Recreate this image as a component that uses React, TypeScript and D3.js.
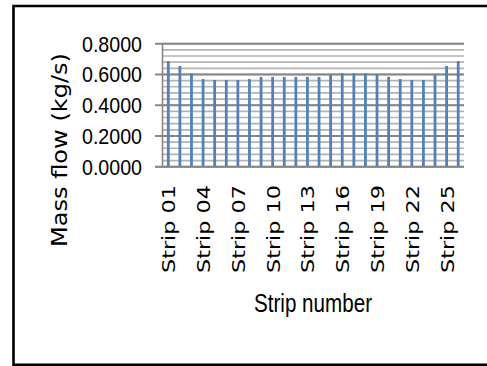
import React from "react";
import * as d3 from "d3";

// Mass flow per strip (kg/s)
const strips: string[] = Array.from({ length: 26 }, (_, i) => `Strip ${String(i + 1).padStart(2, "0")}`);
const massFlow: number[] = [
  0.687, 0.655, 0.607, 0.570, 0.564, 0.564, 0.564, 0.570, 0.584, 0.584, 0.584, 0.584, 0.584,
  0.584, 0.598, 0.607, 0.607, 0.607, 0.598, 0.584, 0.570, 0.564, 0.564, 0.598, 0.655, 0.687,
];
const yTicks: number[] = [0, 0.2, 0.4, 0.6, 0.8];
const yMinorTicks: number[] = d3.range(0, 0.8001, 0.04);
const xLabelEvery = 3;

const W = 487;
const H = 366;
const plot = { left: 162.5, right: 464, top: 43.7, bottom: 166.7 };

export default function App() {
  const x = d3
    .scaleBand<string>()
    .domain(strips)
    .range([plot.left, plot.right])
    .paddingInner(0.76)
    .paddingOuter(0.38);
  const y = d3.scaleLinear().domain([0, 0.8]).range([plot.bottom, plot.top]);

  return (
    <svg
      width={W}
      height={H}
      style={{ position: "absolute", left: 0, top: 0, background: "#fff" }}
    >
      {/* outer frame (open on the right) */}
      <path d={`M${W + 5},6 H13.5 V364.8 H${W + 5}`} fill="none" stroke="#000" strokeWidth={2.6} />

      {/* minor gridlines */}
      {yMinorTicks.map((t, i) => (
        <line
          key={`m${i}`}
          x1={plot.left}
          x2={plot.right}
          y1={y(t)}
          y2={y(t)}
          stroke="#b4b4b4"
          strokeWidth={1.7}
        />
      ))}
      {/* major gridlines with tick marks */}
      {yTicks.map((t) => (
        <line
          key={`M${t}`}
          x1={155}
          x2={plot.right}
          y1={y(t)}
          y2={y(t)}
          stroke="#868686"
          strokeWidth={1.9}
        />
      ))}
      {/* y axis line */}
      <line x1={plot.left} x2={plot.left} y1={plot.top} y2={plot.bottom} stroke="#868686" strokeWidth={1.6} />

      {/* bars */}
      {massFlow.map((v, i) => (
        <rect
          key={strips[i]}
          x={x(strips[i])}
          y={y(v)}
          width={x.bandwidth()}
          height={y(0) - y(v)}
          fill="#4f81bd"
        />
      ))}

      {/* x axis line */}
      <line x1={155} x2={plot.right} y1={plot.bottom} y2={plot.bottom} stroke="#868686" strokeWidth={1.6} />

      {/* y tick labels */}
      {yTicks.map((t) => (
        <text
          key={`l${t}`}
          x={142}
          y={y(t)}
          dy="0.36em"
          textAnchor="end"
          fontFamily="Liberation Sans, Arial, sans-serif"
          fontSize={22}
          textLength={60}
          lengthAdjust="spacingAndGlyphs"
          fill="#000"
        >
          {t.toFixed(4)}
        </text>
      ))}

      {/* x tick labels */}
      {strips.map((s, i) =>
        i % xLabelEvery === 0 ? (
          <text
            key={`x${s}`}
            transform={`translate(${(x(s) as number) + x.bandwidth() / 2 + 7},185) rotate(-90)`}
            textAnchor="end"
            fontFamily="DejaVu Sans, sans-serif"
            fontSize={18}
            textLength={88}
            lengthAdjust="spacingAndGlyphs"
            fill="#000"
          >
            {s}
          </text>
        ) : null
      )}

      {/* axis titles */}
      <text
        transform={`translate(67,150) rotate(-90)`}
        textAnchor="middle"
        fontFamily="DejaVu Sans, sans-serif"
        fontSize={21}
        textLength={194}
        lengthAdjust="spacingAndGlyphs"
        fill="#000"
      >
        Mass flow (kg/s)
      </text>
      <text
        x={313}
        y={312}
        textAnchor="middle"
        fontFamily="Liberation Sans Narrow, Liberation Sans, sans-serif"
        fontSize={25}
        textLength={118}
        lengthAdjust="spacingAndGlyphs"
        fill="#000"
      >
        Strip number
      </text>
    </svg>
  );
}
